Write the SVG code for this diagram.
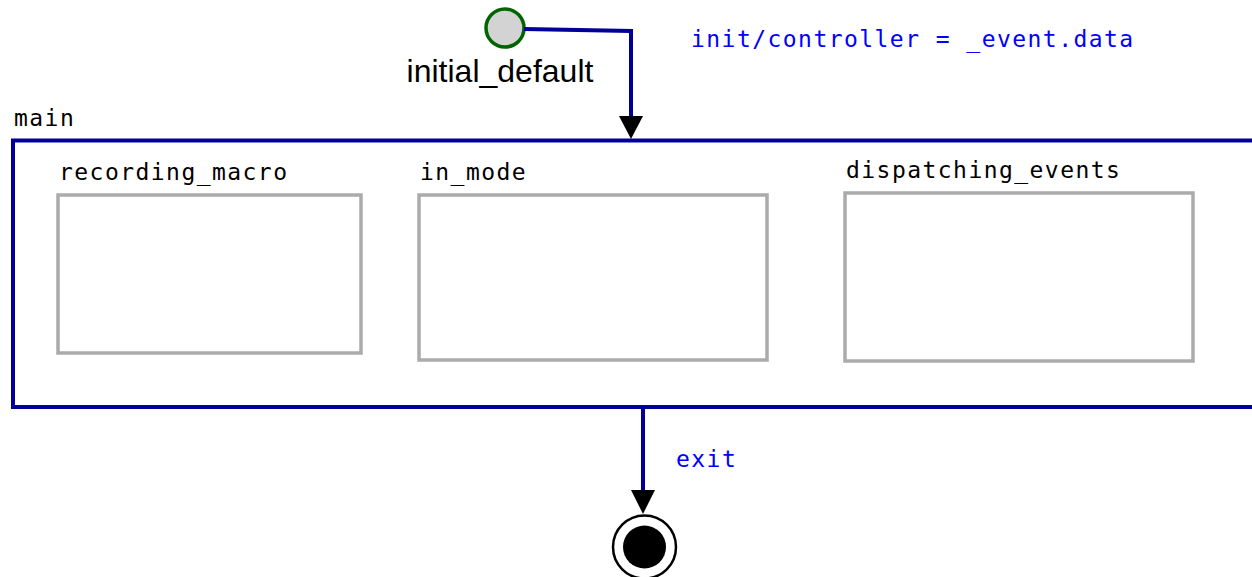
<svg xmlns="http://www.w3.org/2000/svg" width="1252" height="577" viewBox="0 0 1252 577">
<style>
.mono{font-family:"DejaVu Sans Mono","Liberation Mono",monospace;font-size:23px;letter-spacing:1.45px}
.lbl{fill:#000}
.tr{fill:#0000ff}
.sub{fill:#fff;stroke:#ababab;stroke-width:3.5}
.conn{fill:none;stroke:#000099;stroke-width:4}
.head{fill:#000}
</style>
<rect width="1252" height="577" fill="#fff"/>
<g id="main">
<text class="mono lbl" x="14" y="126">main</text>
<rect x="13" y="140.5" width="1260" height="266.5" fill="#fff" stroke="#000099" stroke-width="4"/>
</g>
<g id="recording_macro">
<text class="mono lbl" x="59" y="180">recording_macro</text>
<rect class="sub" x="58" y="195" width="303" height="158"/>
</g>
<g id="in_mode">
<text class="mono lbl" x="420" y="180">in_mode</text>
<rect class="sub" x="419" y="195" width="348" height="165"/>
</g>
<g id="dispatching_events">
<text class="mono lbl" x="846" y="178">dispatching_events</text>
<rect class="sub" x="845" y="193" width="348" height="168"/>
</g>
<g id="initial_default">
<circle cx="505" cy="28" r="19" fill="#d3d3d3" stroke="#006400" stroke-width="3.5"/>
<text x="500" y="82" text-anchor="middle" font-family="Liberation Sans, Arial, sans-serif" font-size="32" fill="#000">initial_default</text>
</g>
<g id="final">
<circle cx="644.5" cy="547" r="31.5" fill="#fff" stroke="#000" stroke-width="2.5"/>
<circle cx="644.5" cy="547" r="21.5" fill="#000"/>
</g>
<g id="connectors">
<path d="M524,29 L631,31 L631,118" class="conn"/>
<path class="head" d="M619,116 L643,116 L631,139 Z"/>
<text class="mono tr" x="691" y="47">init/controller = _event.data</text>
<path d="M643,407 L643,492" class="conn"/>
<path class="head" d="M631,490 L655,490 L643,514 Z"/>
<text class="mono tr" x="676" y="467">exit</text>
</g>
</svg>
